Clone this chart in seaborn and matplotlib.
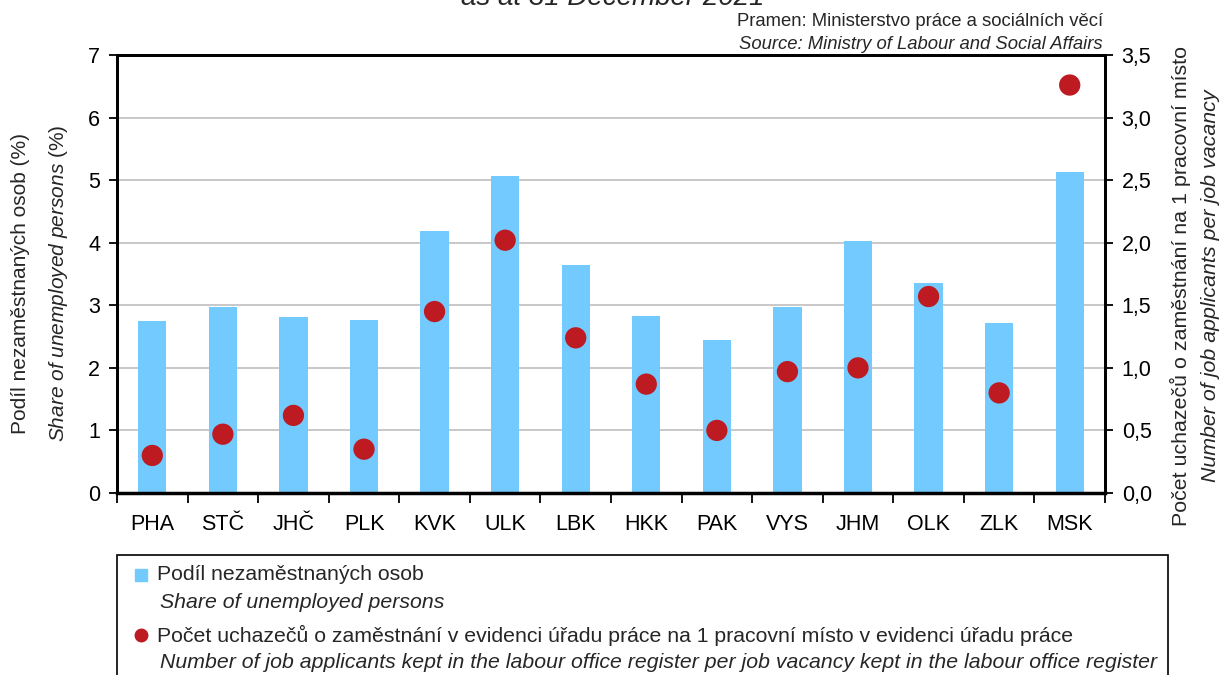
import numpy as np
import pandas as pd
import matplotlib
matplotlib.use("Agg")
import matplotlib.pyplot as plt
import seaborn as sns
from matplotlib.ticker import FuncFormatter, FixedLocator
from matplotlib.lines import Line2D
from matplotlib.patches import Rectangle

regions = ["PHA", "STČ", "JHČ", "PLK", "KVK", "ULK", "LBK", "HKK", "PAK", "VYS", "JHM", "OLK", "ZLK", "MSK"]
unemployed_share = [2.75, 2.98, 2.81, 2.77, 4.18, 5.07, 3.65, 2.83, 2.44, 2.98, 4.02, 3.35, 2.72, 5.13]
applicants_per_vacancy = [0.30, 0.47, 0.62, 0.35, 1.45, 2.02, 1.24, 0.87, 0.50, 0.97, 1.00, 1.57, 0.80, 3.26]
left_ticks = [0, 1, 2, 3, 4, 5, 6, 7]
right_ticks = [0.0, 0.5, 1.0, 1.5, 2.0, 2.5, 3.0, 3.5]

BAR_C = "#72CAFE"
DOT_C = "#BE1A22"
FONT = "Liberation Sans"

sns.set_theme(style="white")
plt.rcParams["font.family"] = [FONT, "DejaVu Sans"]
plt.rcParams["mathtext.fontset"] = "custom"
plt.rcParams["mathtext.rm"] = FONT
plt.rcParams["mathtext.it"] = FONT + ":italic"

df = pd.DataFrame({"region": regions, "share": unemployed_share, "ratio": applicants_per_vacancy})

fig = plt.figure(figsize=(12.21, 6.75), dpi=100)
ax = fig.add_axes([117 / 1221, 1 - 493 / 675, (1105 - 117) / 1221, (493 - 55) / 675])

sns.barplot(data=df, x="region", y="share", color=BAR_C, width=0.4, saturation=1,
            ax=ax, zorder=2, edgecolor="none")
ax.set_ylim(0, 7)
ax.set_xlim(-0.5, len(regions) - 0.5)
ax.yaxis.set_major_locator(FixedLocator(left_ticks))
ax.grid(axis="y", color="#C4C4C4", linewidth=1.3, zorder=0)
ax.set_axisbelow(True)
ax.set_xlabel("")
ax.set_ylabel("")

ax2 = ax.twinx()
sns.scatterplot(data=df, x="region", y="ratio", color=DOT_C, s=235, edgecolor="none",
                ax=ax2, zorder=3, legend=False)
ax2.set_ylim(0, 3.5)
ax2.set_xlim(-0.5, len(regions) - 0.5)
ax2.yaxis.set_major_locator(FixedLocator(right_ticks))
ax2.yaxis.set_major_formatter(FuncFormatter(lambda v, p: f"{v:.1f}".replace(".", ",")))
ax2.set_ylabel("")
ax2.grid(False)

for a in (ax, ax2):
    for s in a.spines.values():
        s.set_color("black")
        s.set_linewidth(2)
        s.set_visible(True)
ax.spines["bottom"].set_linewidth(2.5)

# x ticks: labels at centers, tick marks between categories
ax.set_xticks(range(len(regions)))
ax.set_xticklabels(regions)
ax.set_xticks(np.arange(-0.5, len(regions), 1.0), minor=True)
ax.tick_params(axis="x", which="major", length=0, pad=15, labelsize=15.5, colors="black")
ax.tick_params(axis="x", which="minor", length=7, width=1.3, direction="out", color="black", bottom=True)
ax.tick_params(axis="y", which="major", length=6, width=1.3, direction="out", labelsize=15.5,
               left=True, colors="black", pad=6)
ax2.tick_params(axis="y", which="major", length=6, width=1.3, direction="out", labelsize=15.5,
                right=True, colors="black", pad=6)
ax2.tick_params(axis="x", bottom=False, labelbottom=False)

# axis titles
fig.text(21 / 1221, 1 - 283 / 675, "Podíl nezaměstnaných osob (%)", rotation=90,
         ha="center", va="center", fontsize=15)
fig.text(59 / 1221, 1 - 283 / 675, r"$\mathit{Share\ of\ unemployed\ persons}$ (%)", rotation=90,
         ha="center", va="center", fontsize=15)
fig.text(1180 / 1221, 1 - 286 / 675, "Počet uchazečů o zaměstnání na 1 pracovní místo", rotation=90,
         ha="center", va="center", fontsize=15.4)
fig.text(1210 / 1221, 1 - 286 / 675, "Number of job applicants per job vacancy", rotation=90,
         ha="center", va="center", fontsize=15.4, style="italic")

# title (cut at top, as in the source image) and source
fig.text(613 / 1221, 1 - 5 / 675, "as at 31 December 2021", ha="center", va="baseline",
         fontsize=20, style="italic")
fig.text(1103 / 1221, 1 - 26 / 675, "Pramen: Ministerstvo práce a sociálních věcí", ha="right",
         va="baseline", fontsize=13.3)
fig.text(1103 / 1221, 1 - 49 / 675, "Source: Ministry of Labour and Social Affairs", ha="right",
         va="baseline", fontsize=13.3, style="italic")

# legend box
box = Rectangle((117 / 1221, -0.05), (1168 - 117) / 1221, 1 - 555 / 675 + 0.05,
                transform=fig.transFigure, facecolor="white", edgecolor="black", linewidth=1.2)
fig.add_artist(box)
fig.add_artist(Line2D([141 / 1221], [1 - 575 / 675], marker="s", markersize=9, color=BAR_C,
                      linestyle="none", transform=fig.transFigure))
fig.add_artist(Line2D([141 / 1221], [1 - 635 / 675], marker="o", markersize=9, color=DOT_C,
                      linestyle="none", transform=fig.transFigure))
fig.text(157 / 1221, 1 - 575 / 675, "Podíl nezaměstnaných osob", ha="left", va="center", fontsize=15.3)
fig.text(160 / 1221, 1 - 602 / 675, "Share of unemployed persons", ha="left", va="center",
         fontsize=15.3, style="italic")
fig.text(157 / 1221, 1 - 635 / 675,
         "Počet uchazečů o zaměstnání v evidenci úřadu práce na 1 pracovní místo v evidenci úřadu práce",
         ha="left", va="center", fontsize=15.3)
fig.text(160 / 1221, 1 - 662 / 675,
         "Number of job applicants kept in the labour office register per job vacancy kept in the labour office register",
         ha="left", va="center", fontsize=15.3, style="italic")

fig.savefig("out.png", dpi=100)
